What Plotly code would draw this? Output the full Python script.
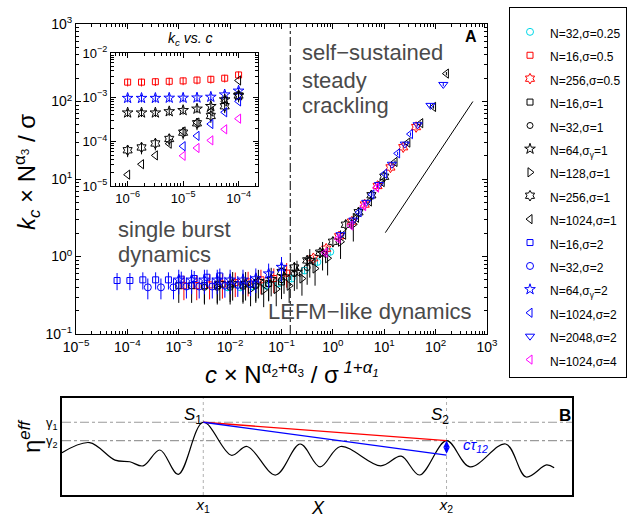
import plotly.graph_objects as go

FONT = "Liberation Sans, Arial, sans-serif"
W, H = 634, 520

# ---------------- Panel A : collapsed data (scaled x, scaled y) ----------------
labels = ["N=32,σ=0.25", "N=16,σ=0.5", "N=256,σ=0.5", "N=16,σ=1", "N=32,σ=1",
          "N=64,σ<sub>γ</sub>=1", "N=128,σ=1", "N=256,σ=1", "N=1024,σ=1", "N=16,σ=2",
          "N=32,σ=2", "N=64,σ<sub>γ</sub>=2", "N=1024,σ=2", "N=2048,σ=2", "N=1024,σ=4"]

x_N32_s025 = [8.9e-3, 1.58e-2, 2.82e-2, 5.0e-2, 8.9e-2, 0.158, 0.282, 0.50, 0.89]
y_N32_s025 = [0.40, 0.40, 0.41, 0.42, 0.45, 0.52, 0.66, 0.85, 1.15]
x_N16_s05 = [1.26e-3, 2.24e-3, 3.98e-3, 7.08e-3, 1.26e-2, 2.24e-2, 3.98e-2, 7.08e-2, 0.126]
y_N16_s05 = [0.42, 0.42, 0.43, 0.44, 0.46, 0.47, 0.50, 0.52, 0.61]
x_N256_s05 = [0.417, 0.741, 1.32, 2.34, 4.17, 7.41, 13.2, 23.4, 41.7]
y_N256_s05 = [0.95, 1.26, 1.82, 2.82, 4.68, 8.13, 14.1, 25.7, 46.8]
x_N16_s1 = [1.0e-3, 1.78e-3, 3.16e-3, 5.62e-3, 1.0e-2, 1.78e-2, 3.16e-2, 5.62e-2, 0.1]
y_N16_s1 = [0.42, 0.42, 0.42, 0.42, 0.43, 0.43, 0.44, 0.45, 0.47]
x_N32_s1 = [3.16e-3, 5.62e-3, 1.0e-2, 1.78e-2, 3.16e-2, 5.62e-2, 0.1, 0.178, 0.316]
y_N32_s1 = [0.40, 0.40, 0.40, 0.41, 0.42, 0.44, 0.50, 0.60, 0.72]
x_N64_s1 = [6.3e-3, 1.12e-2, 2.0e-2, 3.55e-2, 6.3e-2, 0.112, 0.2, 0.355, 0.63]
y_N64_s1 = [0.45, 0.45, 0.45, 0.48, 0.51, 0.55, 0.63, 0.89, 1.10]
x_N128_s1 = [2.5e-2, 4.5e-2, 7.9e-2, 0.141, 0.25, 0.45, 0.79, 1.41, 2.5]
y_N128_s1 = [0.38, 0.37, 0.38, 0.42, 0.52, 0.70, 0.95, 1.55, 2.6]
x_N256_s1 = [0.1, 0.178, 0.316, 0.562, 1.0, 1.78, 3.16, 5.62, 10.0]
y_N256_s1 = [0.63, 0.72, 0.89, 1.12, 1.55, 2.57, 3.72, 6.17, 10.7]
x_N1024_s1 = [1.62, 2.88, 5.13, 9.12, 16.2, 28.8, 51.3, 91.2, 162.0]
y_N1024_s1 = [1.91, 3.16, 5.13, 9.12, 16.6, 29.5, 52.5, 85.1, 229.0]
x_N16_s2 = [6.3e-5, 1.12e-4, 2.0e-4, 3.55e-4, 6.3e-4, 1.12e-3, 2.0e-3, 3.55e-3, 6.3e-3]
y_N16_s2 = [0.49, 0.49, 0.50, 0.50, 0.50, 0.51, 0.52, 0.54, 0.56]
x_N32_s2 = [2.5e-4, 4.5e-4, 7.9e-4, 1.41e-3, 2.5e-3, 4.5e-3, 7.9e-3, 1.41e-2, 2.5e-2]
y_N32_s2 = [0.40, 0.40, 0.40, 0.41, 0.41, 0.41, 0.42, 0.43, 0.44]
x_N64_s2 = [1.0e-3, 1.78e-3, 3.16e-3, 5.62e-3, 1.0e-2, 1.78e-2, 3.16e-2, 5.62e-2, 0.1]
y_N64_s2 = [0.50, 0.50, 0.50, 0.50, 0.50, 0.50, 0.52, 0.60, 0.73]
x_N1024_s2 = [3.24, 5.75, 10.2, 18.2, 32.4]
y_N1024_s2 = [3.72, 6.31, 11.7, 21.4, 38.0]
x_N2048_s2 = [1.41, 2.51, 4.47, 7.94, 14.1, 25.1, 44.7, 79.4, 141.0]
y_N2048_s2 = [1.91, 2.95, 5.0, 8.5, 15.5, 28.2, 50.1, 89.1, 166.0]
x_N1024_s4 = [0.708, 1.26, 2.24, 3.98, 7.08]
y_N1024_s4 = [1.12, 1.70, 2.51, 4.47, 7.76]

# relative error (percent) of each series
err_pct = [10, 35, 8, 40, 40, 40, 40, 15, 5, 25, 30, 35, 5, 5, 8]

# guide lines of panel A
x_transition = [0.148, 0.148]
y_transition = [0.1, 1000]
x_slope = [10.5, 531]
y_slope = [2.03, 100]

# ---------------- Inset : raw k_c vs c ----------------
c_all = [1e-6, 1.78e-6, 3.16e-6, 5.62e-6, 1e-5, 1.78e-5, 3.16e-5, 5.62e-5, 1e-4]
c_late = [1e-5, 1.78e-5, 3.16e-5, 5.62e-5, 1e-4]
kc_N16_s05 = [2.2e-3, 2.2e-3, 2.25e-3, 2.3e-3, 2.35e-3, 2.45e-3, 2.55e-3, 2.7e-3, 3.2e-3]
kc_N64_s2 = [9.6e-4, 9.6e-4, 9.6e-4, 9.7e-4, 9.7e-4, 9.8e-4, 1.02e-3, 1.15e-3, 1.4e-3]
kc_N64_s1 = [4.5e-4, 4.5e-4, 4.5e-4, 4.8e-4, 5.1e-4, 5.5e-4, 6.3e-4, 8.9e-4, 1.1e-3]
kc_N256_s1 = [6.4e-5, 7.4e-5, 9.1e-5, 1.15e-4, 1.6e-4, 2.6e-4, 3.8e-4, 6.3e-4, 1.1e-3]
kc_N1024_s1 = [1.8e-5, 3.1e-5, 4.9e-5, 9.0e-5, 1.7e-4, 2.7e-4, 4.8e-4, 8.1e-4, 2.4e-3]
kc_N1024_s2 = [7.9e-5, 1.35e-4, 2.5e-4, 4.6e-4, 8.1e-4]
kc_N1024_s4 = [4.8e-5, 7.2e-5, 1.07e-4, 1.9e-4, 3.3e-4]

# ---------------- Panel B : schematic effective threshold ----------------
xB = [0, 5.4, 10.4, 13.3, 15.9, 19.2, 22.8, 27.7, 33.2, 36.3, 41.9, 46.7, 50.6, 54.6,
      62.5, 66.5, 70.1, 75.4, 80.0, 87.0, 91.0, 95.0, 96.5]
etaB = [0.436, 0.54, 0.36, 0.343, 0.30, 0.464, 0.213, 0.75, 0.41, 0.50, 0.206, 0.526, 0.29,
        0.50, 0.30, 0.40, 0.206, 0.56, 0.29, 0.526, 0.186, 0.31, 0.28]
x_sites = [27.7, 75.4]          # x1, x2
gamma_levels = [0.75, 0.56]     # gamma1, gamma2
eta_blue_end = 0.41

# ---------------- styles ----------------
BLUE, RED, BLACK, CYAN, MAG = "#0000ff", "#ff0000", "#000000", "#00d8e8", "#ff00ff"
styles = [
    ("circle-open", CYAN, 7), ("square-open", RED, 6), ("hexagram-open", RED, 8),
    ("square-open", BLACK, 6), ("circle-open", BLACK, 6), ("star-open", BLACK, 8),
    ("triangle-right-open", BLACK, 8), ("hexagram-open", BLACK, 8), ("triangle-left-open", BLACK, 8),
    ("square-open", BLUE, 6), ("circle-open", BLUE, 7), ("star-open", BLUE, 8),
    ("triangle-left-open", BLUE, 8), ("triangle-down-open", BLUE, 8), ("triangle-left-open", MAG, 8),
]
main_x = [x_N32_s025, x_N16_s05, x_N256_s05, x_N16_s1, x_N32_s1, x_N64_s1, x_N128_s1,
          x_N256_s1, x_N1024_s1, x_N16_s2, x_N32_s2, x_N64_s2, x_N1024_s2, x_N2048_s2, x_N1024_s4]
main_y = [y_N32_s025, y_N16_s05, y_N256_s05, y_N16_s1, y_N32_s1, y_N64_s1, y_N128_s1,
          y_N256_s1, y_N1024_s1, y_N16_s2, y_N32_s2, y_N64_s2, y_N1024_s2, y_N2048_s2, y_N1024_s4]

fig = go.Figure()

fig.add_trace(go.Scatter(x=x_transition, y=y_transition, mode="lines", showlegend=False,
                         line=dict(color="black", width=1, dash="dashdot"), xaxis="x", yaxis="y",
                         hoverinfo="skip"))
fig.add_trace(go.Scatter(x=x_slope, y=y_slope, mode="lines", showlegend=False,
                         line=dict(color="black", width=1), xaxis="x", yaxis="y", hoverinfo="skip"))

for i, (lab, xs, ys) in enumerate(zip(labels, main_x, main_y)):
    sym, col, sz = styles[i]
    fig.add_trace(go.Scatter(
        x=xs, y=ys, mode="markers",
        name='<span style="font-size:12px">%s</span>' % lab,
        marker=dict(symbol=sym, size=sz, color=col, line=dict(width=1, color=col)),
        error_y=dict(type="percent", value=err_pct[i], color=col, thickness=1, width=0,
                     visible=err_pct[i] > 0),
        xaxis="x", yaxis="y"))

inset_series = [
    (c_all, kc_N16_s05, 1, 20), (c_all, kc_N64_s2, 11, 20), (c_all, kc_N64_s1, 5, 20),
    (c_all, kc_N256_s1, 7, 30), (c_all, kc_N1024_s1, 8, 0), (c_late, kc_N1024_s2, 12, 0),
    (c_late, kc_N1024_s4, 14, 0),
]
for cx, ky, si, ep in inset_series:
    sym, col, sz = styles[si]
    fig.add_trace(go.Scatter(
        x=cx, y=ky, mode="markers", showlegend=False,
        marker=dict(symbol=sym, size=sz, color=col, line=dict(width=1, color=col)),
        error_y=dict(type="percent", value=ep, color=col, thickness=1, width=0, visible=ep > 0),
        xaxis="x2", yaxis="y2"))

for g in gamma_levels:
    fig.add_trace(go.Scatter(x=[0, 100], y=[g, g], mode="lines", showlegend=False,
                             line=dict(color="#9a9a9a", width=1.2, dash="dashdot"),
                             xaxis="x3", yaxis="y3", hoverinfo="skip"))
for xs in x_sites:
    fig.add_trace(go.Scatter(x=[xs, xs], y=[0, 1], mode="lines", showlegend=False,
                             line=dict(color="#b0b0b0", width=1, dash="dot"),
                             xaxis="x3", yaxis="y3", hoverinfo="skip"))
fig.add_trace(go.Scatter(x=xB, y=etaB, mode="lines", showlegend=False,
                         line=dict(color="black", width=1.2, shape="spline", smoothing=1.0),
                         xaxis="x3", yaxis="y3", hoverinfo="skip"))
fig.add_trace(go.Scatter(x=x_sites, y=gamma_levels, mode="lines", showlegend=False,
                         line=dict(color=RED, width=1.3), xaxis="x3", yaxis="y3"))
fig.add_trace(go.Scatter(x=x_sites, y=[gamma_levels[0], eta_blue_end], mode="lines", showlegend=False,
                         line=dict(color=BLUE, width=1.3), xaxis="x3", yaxis="y3"))


def fx(p):
    return p / W


def fy(p):
    return 1 - p / H


dec_main_x = [1e-5, 1e-4, 1e-3, 1e-2, 1e-1, 1e0, 1e1, 1e2, 1e3]
dec_main_x_txt = ["10<sup>−5</sup>", "10<sup>−4</sup>", "10<sup>−3</sup>", "10<sup>−2</sup>",
                  "10<sup>−1</sup>", "10<sup>0</sup>", "10<sup>1</sup>", "10<sup>2</sup>", "10<sup>3</sup>"]
dec_main_y = [1e-1, 1e0, 1e1, 1e2, 1e3]
dec_main_y_txt = ["10<sup>−1</sup>", "10<sup>0</sup>", "10<sup>1</sup>", "10<sup>2</sup>", "10<sup>3</sup>"]


def minor_vals(e0, e1):
    return [m * 10.0 ** e for e in range(e0, e1) for m in range(2, 10)]


def log_axis(domain, anchor, rng, tv, tt, minors, size):
    return dict(domain=domain, anchor=anchor, type="log", range=rng, tickmode="array",
                tickvals=tv, ticktext=tt, ticks="inside", ticklen=5, tickcolor="black",
                showline=True, linecolor="black", linewidth=1, mirror="allticks",
                showgrid=False, zeroline=False, automargin=False,
                tickfont=dict(size=size, color="black"),
                minor=dict(tickmode="array", tickvals=minors, ticks="inside", ticklen=3,
                           tickcolor="black", showgrid=False))


fig.update_layout(
    template="none",
    width=W, height=H, margin=dict(l=0, r=0, t=0, b=0, autoexpand=False),
    paper_bgcolor="white", plot_bgcolor="white",
    font=dict(family=FONT, size=14, color="black"),
    xaxis=log_axis([fx(76), fx(487)], "y", [-5, 3], dec_main_x, dec_main_x_txt, minor_vals(-5, 3), 14),
    yaxis=log_axis([fy(334), fy(24)], "x", [-1, 3], dec_main_y, dec_main_y_txt, minor_vals(-1, 3), 14),
    xaxis2=log_axis([fx(111), fx(258)], "y2", [-6.3, -3.65], [1e-6, 1e-5, 1e-4],
                    ["10<sup>−6</sup>", "10<sup>−5</sup>", "10<sup>−4</sup>"], minor_vals(-7, -3), 13),
    yaxis2=log_axis([fy(186), fy(53)], "x2", [-5, -2], [1e-5, 1e-4, 1e-3, 1e-2],
                    ["10<sup>−5</sup>", "10<sup>−4</sup>", "10<sup>−3</sup>", "10<sup>−2</sup>"],
                    minor_vals(-5, -2), 13),
    xaxis3=dict(domain=[fx(62), fx(572)], anchor="y3", range=[0, 100], showline=True,
                linecolor="black", linewidth=1.5, mirror=True, ticks="", showgrid=False,
                zeroline=False, automargin=False, tickmode="array", tickvals=x_sites,
                ticktext=["<i>x</i><sub>1</sub>", "<i>x</i><sub>2</sub>"],
                ticklabelstandoff=-5, tickfont=dict(size=15, color="black")),
    yaxis3=dict(domain=[fy(495), fy(398)], anchor="x3", range=[0, 1], showline=True,
                linecolor="black", linewidth=1.5, mirror=True, ticks="", showgrid=False,
                zeroline=False, automargin=False, tickmode="array", tickvals=gamma_levels,
                ticktext=["γ<sub>1</sub>", "γ<sub>2</sub>"], tickfont=dict(size=13, color="black")),
    showlegend=True,
    legend=dict(x=fx(509), y=fy(7), xanchor="left", yanchor="top", bordercolor="black",
                borderwidth=1, bgcolor="white", font=dict(size=15.7, color="black"),
                title=dict(text="\u00a0", font=dict(size=5.5))),
)

GRAY = "#4a4a4a"
ann = []


def txt(text, x, y, size, color="black", xanchor="center", yanchor="middle", angle=0, bold=False):
    ann.append(dict(text=("<b>%s</b>" % text) if bold else text, x=fx(x), y=fy(y),
                    xref="paper", yref="paper", showarrow=False, xanchor=xanchor,
                    yanchor=yanchor, textangle=angle, font=dict(size=size, color=color)))


txt("A", 471, 37, 16, bold=True)
txt("single burst", 116, 229, 22, GRAY, xanchor="left")
txt("dynamics", 116, 254, 22, GRAY, xanchor="left")
txt("self−sustained", 300, 53, 22, GRAY, xanchor="left")
txt("steady", 300, 80, 22, GRAY, xanchor="left")
txt("crackling", 300, 106, 22, GRAY, xanchor="left")
txt("LEFM−like dynamics", 266, 311, 22, GRAY, xanchor="left")
txt("<i>k</i><sub><i>c</i></sub><i> vs. c</i>", 190, 39, 14)
txt("<i>k</i><sub><i>c</i></sub> × N<sup>α<sub>3</sub></sup> / σ", 27, 172, 24, angle=-90)
txt("<i>c</i> × N<sup>α<sub>2</sub>+α<sub>3</sub></sup> / σ<sup> <i>1+α<sub>1</sub></i></sup>",
    292, 373, 24)
txt("B", 565, 415, 17, bold=True)
txt("<i>S</i><sub>1</sub>", 193, 416, 17)
txt("<i>S</i><sub>2</sub>", 440, 416, 17)
txt("<i>cτ</i><sub><i>12</i></sub>", 461, 445, 15, BLUE, xanchor="left")
txt("η<sup><i>eff</i></sup>", 30, 436, 24, angle=-90)
txt("<i>X</i>", 318, 508, 18)

ann.append(dict(x=x_sites[1], y=gamma_levels[1], ax=x_sites[1], ay=eta_blue_end,
                xref="x3", yref="y3", axref="x3", ayref="y3", showarrow=True, text="",
                arrowhead=2, arrowside="end+start", arrowsize=1, arrowwidth=1.3, arrowcolor=BLUE))
fig.update_layout(annotations=ann)

fig.write_html("out.html", config={"displayModeBar": False},
               post_script="document.body.style.margin='0';document.body.style.overflow='hidden';")
